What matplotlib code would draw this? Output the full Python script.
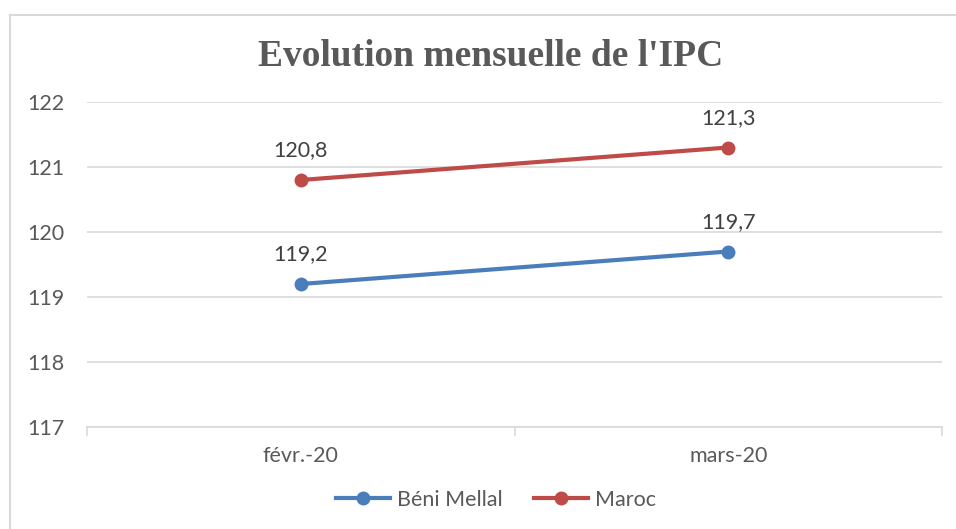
import matplotlib
matplotlib.use("Agg")
import matplotlib.pyplot as plt
from matplotlib.lines import Line2D

categories = ["févr.-20", "mars-20"]
beni_mellal = [119.2, 119.7]
maroc = [120.8, 121.3]
beni_labels = ["119,2", "119,7"]
maroc_labels = ["120,8", "121,3"]
yticks = [117, 118, 119, 120, 121, 122]

fig = plt.figure(figsize=(9.56, 5.29), dpi=100)
ax = fig.add_axes([87/956, 1-427/529, (942-87)/956, (427-102)/529])

txt = "#595959"
grid = "#d9d9d9"
blue = "#4a7ebb"
red = "#be4b48"
font = "Lato"
fs = 15.5

x = list(range(len(categories)))
ax.plot(x, beni_mellal, color=blue, lw=3, marker="o", ms=9, label="Béni Mellal",
        solid_capstyle="round")
ax.plot(x, maroc, color=red, lw=3, marker="o", ms=9, label="Maroc",
        solid_capstyle="round")

for xi, v, l in zip(x, beni_mellal, beni_labels):
    ax.annotate(l, (xi, v), xytext=(0, 14), textcoords="offset points",
                ha="center", va="bottom", fontsize=fs, color="#404040", family=font)
for xi, v, l in zip(x, maroc, maroc_labels):
    ax.annotate(l, (xi, v), xytext=(0, 14), textcoords="offset points",
                ha="center", va="bottom", fontsize=fs, color="#404040", family=font)

ax.set_xlim(-0.5, len(categories) - 0.5)
ax.set_ylim(117, 122)
ax.set_yticks(yticks)
ax.set_yticklabels([str(t) for t in yticks], fontsize=fs, color=txt, family=font)
ax.set_xticks(x)
ax.set_xticklabels(categories, fontsize=fs, color=txt, family=font)
ax.tick_params(axis="y", length=0, pad=16)
ax.tick_params(axis="x", length=0, pad=14)
ax.grid(axis="y", color=grid, lw=1.2)
ax.set_axisbelow(True)
for s in ["top", "right", "left"]:
    ax.spines[s].set_visible(False)
ax.spines["bottom"].set_color(grid)
ax.spines["bottom"].set_linewidth(1.2)
# category boundary tick marks
for b in [-0.5, 0.5, 1.5]:
    ax.plot([b, b], [117, 116.88], color=grid, lw=1.2, clip_on=False)

fig.text(491/956, 1-57/529, "Evolution mensuelle de l'IPC", ha="center", va="center",
         fontsize=27, fontweight="bold", color=txt, family="Liberation Serif")

fig.legend(handles=[Line2D([], [], color=blue, lw=3, marker="o", ms=9),
                    Line2D([], [], color=red, lw=3, marker="o", ms=9)],
           labels=["Béni Mellal", "Maroc"], loc="center",
           bbox_to_anchor=(496/956, 1-500/529), ncol=2, frameon=False,
           prop={"family": font, "size": fs}, labelcolor=txt,
           handlelength=2.5, columnspacing=1.5, handletextpad=0.3)

# chart frame
fig.add_artist(Line2D([10/956, 10/956], [0, 1-15/529], color=grid, lw=1.5,
                      transform=fig.transFigure))
fig.add_artist(Line2D([10/956, 1], [1-15/529, 1-15/529], color=grid, lw=1.5,
                      transform=fig.transFigure))

fig.savefig("out.png", dpi=100)
